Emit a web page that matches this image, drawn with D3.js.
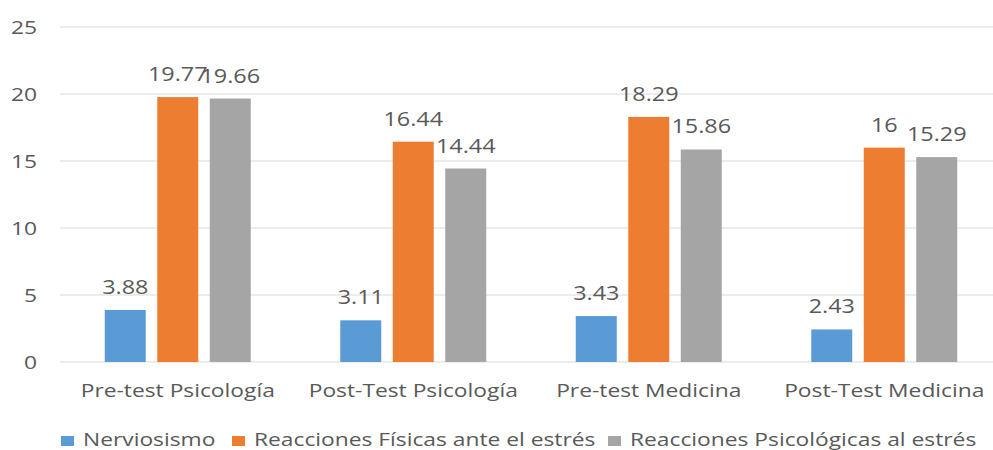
<!DOCTYPE html>
<html>
<head>
<meta charset="utf-8">
<script src="https://cdn.jsdelivr.net/npm/d3@7"></script>
<style>
  body { margin: 0; background: #fff; }
  text { font-family: "Open Sans", sans-serif; fill: #595959; }
</style>
</head>
<body>
<svg id="chart" width="993" height="450"></svg>
<script>
// datos
const categorias = ["Pre-test Psicología", "Post-Test Psicología", "Pre-test Medicina", "Post-Test Medicina"];
const series = ["Nerviosismo", "Reacciones Físicas ante el estrés", "Reacciones Psicológicas al estrés"];
const nerviosismo = [3.88, 3.11, 3.43, 2.43];
const fisicas = [19.77, 16.44, 18.29, 16];
const psicologicas = [19.66, 14.44, 15.86, 15.29];
const yTicks = [0, 5, 10, 15, 20, 25];
const colores = ["#5B9BD5", "#ED7D31", "#A5A5A5"];

const valores = [nerviosismo, fisicas, psicologicas];
const filas = categorias.map((c, i) => ({
  cat: c,
  vals: series.map((s, j) => ({ serie: s, v: valores[j][i] }))
}));

const svg = d3.select("#chart");
const SX = 1.2; // el texto del original está algo estirado en horizontal
const pos = (px, py) => `translate(${px},${py}) scale(${SX},1)`;

const x = d3.scaleBand().domain(categorias).range([60, 1002]);
const y = d3.scaleLinear().domain([0, 25]).range([362, 27]);

// líneas de cuadrícula
svg.append("g")
  .selectAll("line")
  .data(yTicks)
  .join("line")
  .attr("x1", 60).attr("x2", 993)
  .attr("y1", d => y(d)).attr("y2", d => y(d))
  .attr("stroke", "#D9D9D9")
  .attr("stroke-width", 1);

// etiquetas eje Y
svg.append("g")
  .selectAll("text")
  .data(yTicks)
  .join("text")
  .attr("transform", d => pos(37, y(d)))
  .attr("dy", "0.36em")
  .attr("text-anchor", "end")
  .style("font-size", "19px")
  .text(d => d);

// barras
const grupos = svg.append("g")
  .selectAll("g")
  .data(filas)
  .join("g");

grupos.each(function (f) {
  const c = x(f.cat) + x.bandwidth() / 2;
  const xs = d3.scaleBand().domain(series).range([c - 73, c + 73]).paddingInner(0.219);
  const g = d3.select(this);

  g.selectAll("rect")
    .data(f.vals)
    .join("rect")
    .attr("x", d => xs(d.serie))
    .attr("width", xs.bandwidth())
    .attr("y", d => y(d.v))
    .attr("height", d => y(0) - y(d.v))
    .attr("fill", (d, i) => colores[i]);

  g.selectAll("text")
    .data(f.vals)
    .join("text")
    .attr("transform", d => pos(xs(d.serie) + xs.bandwidth() / 2, y(d.v) - 16))
    .attr("text-anchor", "middle")
    .style("font-size", "19.5px")
    .text(d => d.v);
});

// etiquetas de categoría
svg.append("g")
  .selectAll("text")
  .data(categorias)
  .join("text")
  .attr("transform", d => pos(x(d) + x.bandwidth() / 2, 397))
  .attr("text-anchor", "middle")
  .style("font-size", "19px")
  .text(d => d);

// leyenda
const leyX = [61, 232, 608];
const ley = svg.append("g")
  .selectAll("g")
  .data(series)
  .join("g")
  .attr("transform", (d, i) => `translate(${leyX[i]},436)`);

ley.append("rect")
  .attr("width", 13).attr("height", 10)
  .attr("fill", (d, i) => colores[i]);

ley.append("text")
  .attr("transform", pos(22, 10))
  .style("font-size", "19px")
  .text(d => d);
</script>
</body>
</html>
